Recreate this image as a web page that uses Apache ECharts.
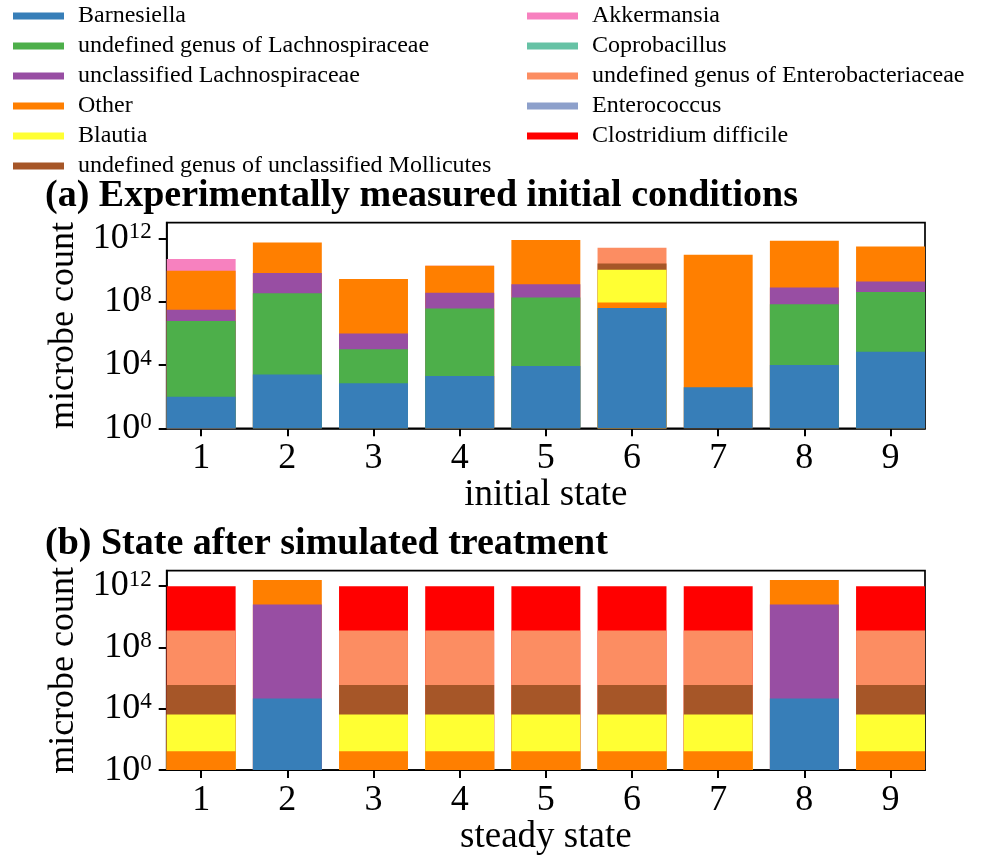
<!DOCTYPE html>
<html><head><meta charset="utf-8">
<script src="https://cdn.jsdelivr.net/npm/echarts@6/dist/echarts.min.js"></script>
<style>html,body{margin:0;padding:0;background:#fff}#c{width:983px;height:857px}</style>
</head><body><div id="c"></div>
<script>
// ---------------- data ----------------
const states = [1, 2, 3, 4, 5, 6, 7, 8, 9];
const genera = [
  'Barnesiella',
  'undefined genus of Lachnospiraceae',
  'unclassified Lachnospiraceae',
  'Other',
  'Blautia',
  'undefined genus of unclassified Mollicutes',
  'Akkermansia',
  'Coprobacillus',
  'undefined genus of Enterobacteriaceae',
  'Enterococcus',
  'Clostridium difficile'
];
const genusColors = ['#377eb8', '#4daf4a', '#984ea3', '#ff7f00', '#ffff33', '#a65628',
  '#f781bf', '#66c2a5', '#fc8d62', '#8da0cb', '#ff0000'];
const yTickValues = [1, 1e4, 1e8, 1e12];

// (a) experimentally measured initial conditions, per state 1..9
const initBarnesiella   = [1e2, 2.5e3, 7e2, 2e3, 8.7e3, 4.1e7, 3.9e2, 1.0e4, 7e4];
const initUndefLachno   = [6.2e6, 3.5e8, 9.9e4, 3.7e7, 1.85e8, 0, 0, 7e7, 4.1e8];
const initUnclLachno    = [2.5e7, 6.15e9, 9e5, 3.4e8, 1.1e9, 0, 0, 7.2e8, 1.5e9];
const initOther         = [9.07e9, 5.5e11, 2.8e9, 1.76e10, 7.9e11, 4.8e7, 9.3e10, 7.1e11, 3.1e11];
const initBlautia       = [0, 0, 0, 0, 0, 1.04e10, 0, 0, 0];
const initMollicutes    = [0, 0, 0, 0, 0, 1.55e10, 0, 0, 0];
const initAkkermansia   = [4.1e10, 0, 0, 0, 0, 0, 0, 0, 0];
const initCoprobacillus = [0, 0, 0, 0, 0, 0, 0, 0, 0];
const initEnterobact    = [0, 0, 0, 2e9, 0, 2.3e11, 0, 0, 0];
const initEnterococcus  = [0, 0, 0, 0, 0, 0, 0, 0, 0];
const initCdiff         = [0, 0, 0, 0, 0, 0, 0, 0, 0];

// (b) state after simulated treatment, per steady state 1..9
const steadyBarnesiella   = [0, 4.6e4, 0, 0, 0, 0, 0, 4.6e4, 0];
const steadyUndefLachno   = [0, 0, 0, 0, 0, 0, 0, 0, 0];
const steadyUnclLachno    = [0, 6.2e10, 0, 0, 0, 0, 0, 6.2e10, 0];
const steadyOther         = [17, 2.44e12, 17, 17, 17, 17, 17, 2.44e12, 17];
const steadyBlautia       = [4.2e3, 0, 4.2e3, 4.2e3, 4.2e3, 4.2e3, 4.2e3, 0, 4.2e3];
const steadyMollicutes    = [3.46e5, 0, 3.46e5, 3.46e5, 3.46e5, 3.46e5, 3.46e5, 0, 3.46e5];
const steadyAkkermansia   = [0, 0, 0, 0, 0, 0, 0, 0, 0];
const steadyCoprobacillus = [0, 0, 0, 0, 0, 0, 0, 0, 0];
const steadyEnterobact    = [1.27e9, 0, 1.27e9, 1.27e9, 1.27e9, 1.27e9, 1.27e9, 0, 1.27e9];
const steadyEnterococcus  = [0, 0, 0, 0, 0, 0, 0, 0, 0];
const steadyCdiff         = [9.59e11, 0, 9.59e11, 9.59e11, 9.59e11, 9.59e11, 9.59e11, 0, 9.59e11];

const initialTable = [initBarnesiella, initUndefLachno, initUnclLachno, initOther, initBlautia,
  initMollicutes, initAkkermansia, initCoprobacillus, initEnterobact, initEnterococcus, initCdiff];
const steadyTable = [steadyBarnesiella, steadyUndefLachno, steadyUnclLachno, steadyOther, steadyBlautia,
  steadyMollicutes, steadyAkkermansia, steadyCoprobacillus, steadyEnterobact, steadyEnterococcus, steadyCdiff];

// ---------------- layout / style ----------------
const FONT = 'Liberation Serif';
const PLOT_LEFT = 166.7, PLOT_W = 758.3;
const grids = [
  { left: PLOT_LEFT, top: 222.7, width: PLOT_W, height: 205.6 },
  { left: PLOT_LEFT, top: 570.7, width: PLOT_W, height: 205 }
];
const X_MIN = 0.6, X_MAX = 9.4;
const BAR_W = PLOT_W / (X_MAX - X_MIN) * 0.8;
const TICK = { show: true, length: 8, lineStyle: { color: '#000', width: 2 } };
const SPINE = { color: '#000', width: 1.7 };

// stacked bars on a log axis: each segment spans cumulative[k-1]..cumulative[k];
// drawn as overlapping bars from the axis base, topmost stack level first.
function makeSeries(table, idx) {
  const cum = [];
  table.forEach((row, g) => {
    cum.push(row.map((v, s) => v + (g > 0 ? cum[g - 1][s] : 0)));
  });
  const out = [];
  for (let g = genera.length - 1; g >= 0; g--) {
    const data = [];
    states.forEach((x, s) => { if (table[g][s] > 0) data.push([x, cum[g][s]]); });
    out.push({
      type: 'bar', name: genera[g], xAxisIndex: idx, yAxisIndex: idx,
      barWidth: BAR_W, barGap: '-100%',
      itemStyle: { color: genusColors[g] },
      data: data
    });
  }
  return out;
}

function xAxis(idx, name) {
  return {
    type: 'value', gridIndex: idx, min: X_MIN, max: X_MAX,
    name: name, nameLocation: 'middle', nameGap: 44,
    nameTextStyle: { fontFamily: FONT, fontSize: 37, color: '#000' },
    axisLine: { show: true, lineStyle: SPINE },
    axisTick: Object.assign({ customValues: states }, TICK),
    axisLabel: { customValues: states, margin: 12, fontFamily: FONT, fontSize: 36, color: '#000',
      formatter: v => String(Math.round(v)) },
    splitLine: { show: false }
  };
}
function yAxis(idx) {
  return {
    type: 'log', logBase: 10, gridIndex: idx, min: 1, max: 1e13,
    name: 'microbe count', nameLocation: 'middle', nameGap: 80,
    nameTextStyle: { fontFamily: FONT, fontSize: 36, color: '#000' },
    axisLine: { show: true, lineStyle: SPINE },
    axisTick: Object.assign({ customValues: yTickValues }, TICK),
    axisLabel: {
      customValues: yTickValues, margin: 15, color: '#000',
      formatter: v => '{b|10}{s|' + Math.round(Math.log10(v)) + '}',
      rich: {
        b: { fontFamily: FONT, fontSize: 36, lineHeight: 36, color: '#000' },
        s: { fontFamily: FONT, fontSize: 23, lineHeight: 20, verticalAlign: 'top', color: '#000' }
      }
    },
    splitLine: { show: false }
  };
}

const legendBase = {
  orient: 'vertical', icon: 'rect', itemWidth: 51, itemHeight: 7, itemGap: 6,
  selectedMode: false, padding: 0,
  textStyle: { fontFamily: FONT, fontSize: 24, color: '#000', padding: [0, 0, 0, 9] }
};

const chart = echarts.init(document.getElementById('c'), null, { renderer: 'canvas' });
chart.setOption({
  animation: false,
  backgroundColor: '#fff',
  title: [
    { text: '(a) Experimentally measured initial conditions', left: 45, top: 177, padding: 0,
      textStyle: { fontFamily: FONT, fontWeight: 'bold', fontSize: 38, color: '#000' } },
    { text: '(b) State after simulated treatment', left: 45, top: 525, padding: 0,
      textStyle: { fontFamily: FONT, fontWeight: 'bold', fontSize: 38, color: '#000' } }
  ],
  legend: [
    Object.assign({}, legendBase, { left: 13, top: 4, data: genera.slice(0, 6) }),
    Object.assign({}, legendBase, { left: 527, top: 4, data: genera.slice(6) })
  ],
  grid: grids.map(g => Object.assign({ show: true, borderColor: '#000', borderWidth: 1.7,
    backgroundColor: '#fff' }, g)),
  xAxis: [xAxis(0, 'initial state'), xAxis(1, 'steady state')],
  yAxis: [yAxis(0), yAxis(1)],
  series: makeSeries(initialTable, 0).concat(makeSeries(steadyTable, 1))
});
</script></body></html>
